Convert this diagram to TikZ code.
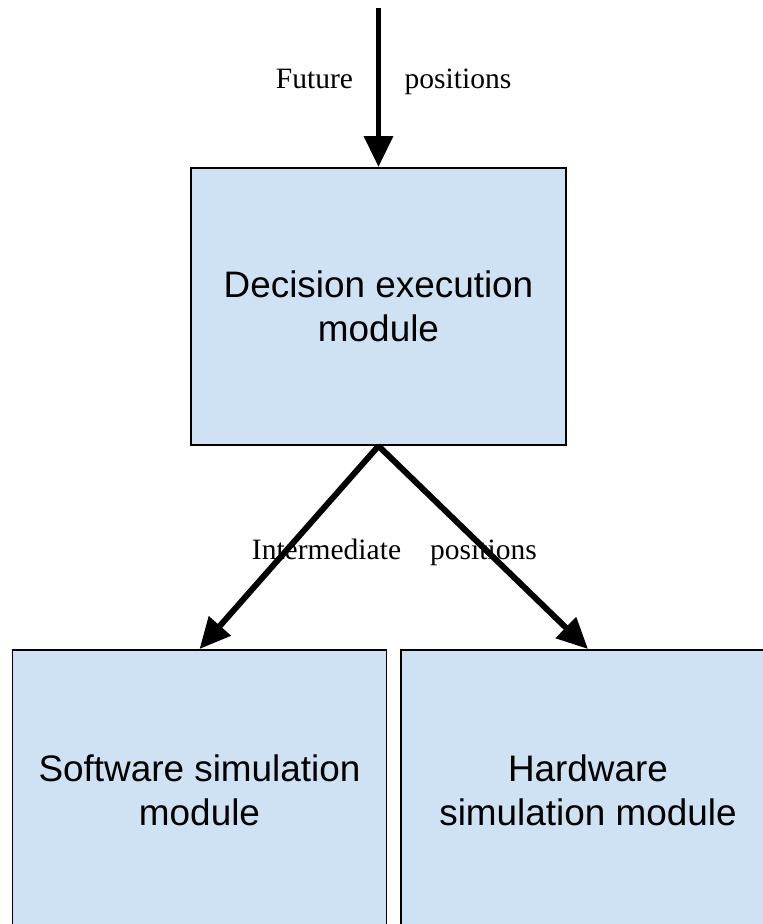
\documentclass[tikz,border=0pt]{standalone}
\usepackage{fontspec}
\setmainfont{Liberation Serif}
\newfontfamily\boxfont{Liberation Sans}
\usetikzlibrary{arrows.meta}
\usetikzlibrary{positioning}

\definecolor{modfill}{HTML}{CFE2F3}

\tikzset{
  module/.style={rectangle,draw=black,line width=1.1pt,fill=modfill,align=center,
    font=\boxfont\fontsize{21}{25}\selectfont,inner sep=0pt},
  flow/.style={line width=3.4pt,-{Triangle[length=17.6pt,width=16pt]}},
  flowlabel/.style={anchor=base,font=\fontsize{16.8}{20}\selectfont,inner sep=0pt}
}

\begin{document}
\begin{tikzpicture}[x=0.02cm,y=-0.02cm]
\useasboundingbox (0,0) rectangle (763,924);
\clip (0,0) rectangle (763,924);

% modules
\node[module,minimum width=375*0.02cm,minimum height=277*0.02cm] (dec) at (378.5,306.5) {Decision execution\\module};
\node[module,minimum width=374*0.02cm,minimum height=280*0.02cm] (sw) at (199.5,790) {Software simulation\\module};
\node[module,minimum width=374*0.02cm,minimum height=280*0.02cm] (hw) at (588,790) {Hardware\\simulation module};

% labels
\node[flowlabel] (fut1) at (314.5,88) {Future};
\node[flowlabel] (fut2) at (458,88) {positions};
\node[flowlabel] (int1) at (326.5,559) {Intermediate};
\node[flowlabel] (int2) at (483.5,559) {positions};

% arrows
\coordinate (in) at (378.5,8);
\draw[flow] (in) -- (dec.north);
\draw[flow] (dec.south) -- (sw.north);
\draw[flow] (dec.south) -- (hw.north);

\end{tikzpicture}
\end{document}
